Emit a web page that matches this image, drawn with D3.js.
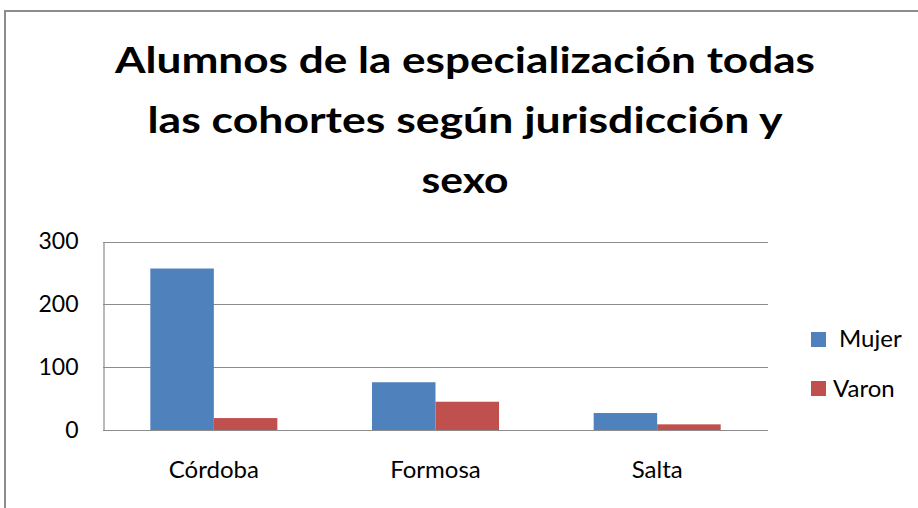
<!DOCTYPE html>
<html>
<head>
<meta charset="utf-8">
<script src="https://cdn.jsdelivr.net/npm/d3@7"></script>
<style>
  html, body { margin: 0; padding: 0; background: #fff; }
  svg { display: block; }
</style>
</head>
<body>
<svg id="chart" width="918" height="508"></svg>
<script>
const titleLines = ["Alumnos de la especialización todas", "las cohortes según jurisdicción y", "sexo"];
const categories = ["Córdoba", "Formosa", "Salta"];
const seriesNames = ["Mujer", "Varon"];
const mujer = [257, 76, 27];
const varon = [19, 45, 9];
const yTicks = [0, 100, 200, 300];
const colors = ["#4F81BD", "#C0504D"];

const svg = d3.select("#chart");
const font = "Lato, 'Open Sans', sans-serif";

// chart border
svg.append("rect")
  .attr("x", 5).attr("y", 11)
  .attr("width", 930).attr("height", 520)
  .attr("fill", "#fff").attr("stroke", "#8c8c8c").attr("stroke-width", 2);

// title
const titleWidths = [700, 635, 87];
const titleY = [73, 133, 193];
titleLines.forEach((t, i) => {
  svg.append("text")
    .attr("x", 465).attr("y", titleY[i])
    .attr("text-anchor", "middle")
    .attr("font-family", font).attr("font-weight", "bold")
    .attr("font-size", 36)
    .attr("textLength", titleWidths[i]).attr("lengthAdjust", "spacingAndGlyphs")
    .attr("fill", "#000")
    .text(t);
});

const plot = { left: 103, right: 768, top: 241.5, bottom: 430 };

const x = d3.scaleBand().domain(categories)
  .range([plot.left, plot.right]).paddingInner(0.427).paddingOuter(0.2135);
const xs = d3.scaleBand().domain(seriesNames).range([0, x.bandwidth()]);
const y = d3.scaleLinear().domain([0, 300]).range([plot.bottom, plot.top]);

// gridlines
svg.append("g")
  .selectAll("line").data(yTicks).join("line")
  .attr("x1", plot.left).attr("x2", plot.right)
  .attr("y1", d => Math.round(y(d)) + 0.5).attr("y2", d => Math.round(y(d)) + 0.5)
  .attr("stroke", "#8c8c8c").attr("stroke-width", 1.2);

// y axis
const yAxis = svg.append("g")
  .attr("transform", `translate(${plot.left + 0.5},0)`)
  .call(d3.axisLeft(y).tickValues(yTicks).tickSize(0).tickPadding(25).tickFormat(d3.format("d")));
yAxis.select(".domain").attr("stroke", "#8c8c8c").attr("stroke-width", 1.2);
yAxis.selectAll("text")
  .attr("font-family", font).attr("font-size", 23).attr("fill", "#000");

// bars
const data = categories.map((c, i) => ({ cat: c, values: [mujer[i], varon[i]] }));
const groups = svg.append("g").selectAll("g").data(data).join("g")
  .attr("transform", d => `translate(${x(d.cat)},0)`);
groups.selectAll("rect")
  .data(d => d.values.map((v, j) => ({ name: seriesNames[j], v, j })))
  .join("rect")
  .attr("x", d => xs(d.name))
  .attr("width", xs.bandwidth())
  .attr("y", d => y(d.v))
  .attr("height", d => y(0) - y(d.v))
  .attr("fill", d => colors[d.j]);

// redraw baseline on top
svg.append("line")
  .attr("x1", plot.left).attr("x2", plot.right)
  .attr("y1", Math.round(y(0)) + 0.5).attr("y2", Math.round(y(0)) + 0.5)
  .attr("stroke", "#8c8c8c").attr("stroke-width", 1.2);

// x axis labels
const xAxis = svg.append("g")
  .attr("transform", `translate(0,${plot.bottom})`)
  .call(d3.axisBottom(x).tickSize(0).tickPadding(31));
xAxis.select(".domain").remove();
xAxis.selectAll("text")
  .attr("font-family", font).attr("font-size", 24).attr("fill", "#000");

// legend
const legend = [
  { name: "Mujer", sq: [811, 332], tx: [839, 347] },
  { name: "Varon", sq: [811, 381], tx: [833, 397] }
];
legend.forEach((l, i) => {
  svg.append("rect")
    .attr("x", l.sq[0]).attr("y", l.sq[1])
    .attr("width", 15).attr("height", 15)
    .attr("fill", colors[i]);
  svg.append("text")
    .attr("x", l.tx[0]).attr("y", l.tx[1])
    .attr("font-family", font).attr("font-size", 24).attr("fill", "#000")
    .text(l.name);
});
</script>
</body>
</html>
